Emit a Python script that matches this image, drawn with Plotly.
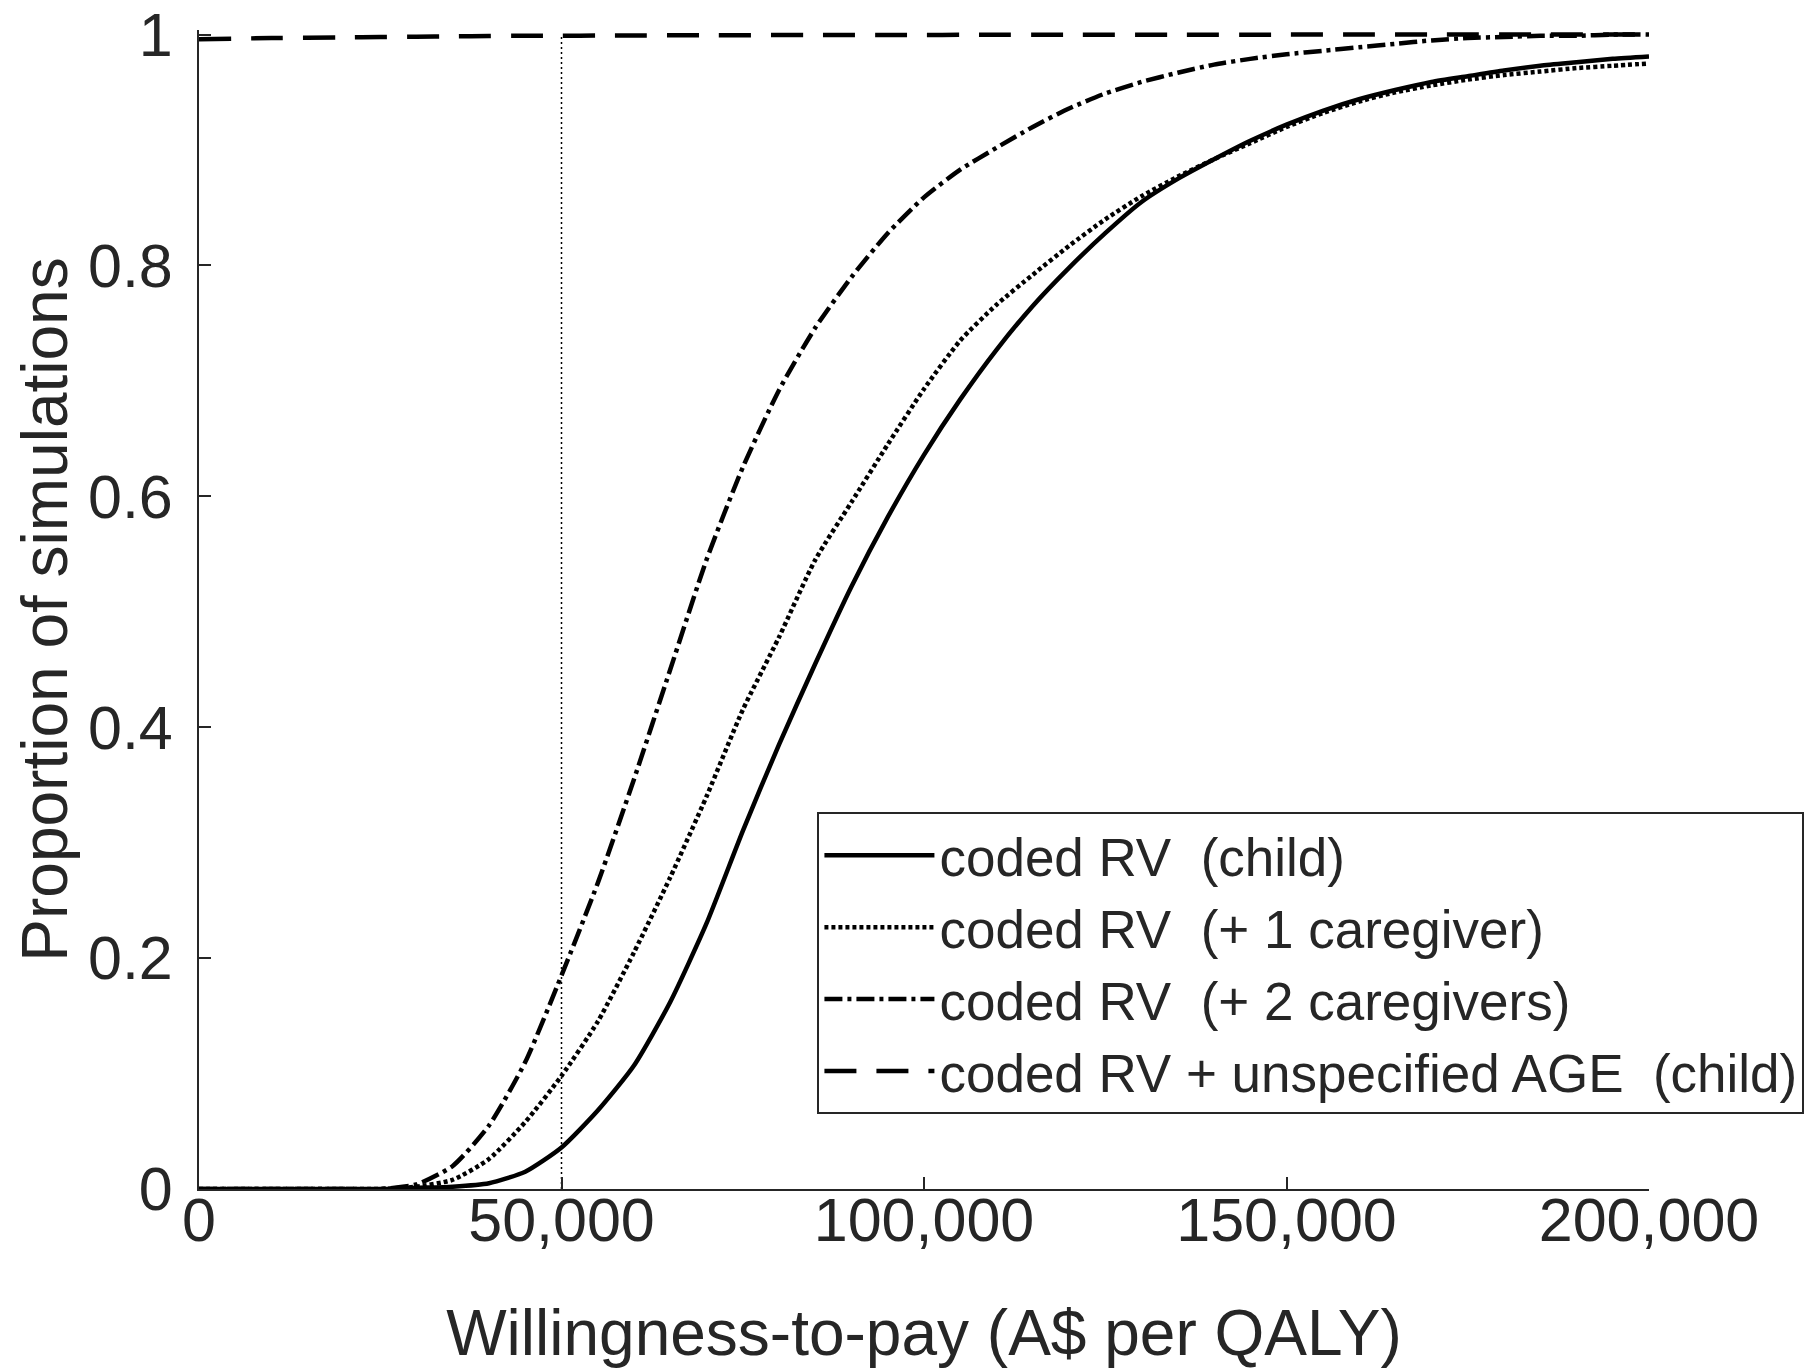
import plotly.graph_objects as go

# Willingness-to-pay grid (A$ per QALY)
wtp = [0, 10000, 20000, 25000, 30000, 35000, 40000, 45000, 50000, 55000, 60000,
       65000, 70000, 75000, 80000, 85000, 90000, 95000, 100000, 105000, 110000,
       115000, 120000, 125000, 130000, 135000, 140000, 145000, 150000, 155000,
       160000, 165000, 170000, 175000, 180000, 185000, 190000, 195000, 200000]

child = [0, 0, 0, 0, 0.001, 0.002, 0.005, 0.015, 0.036, 0.068, 0.107,
         0.162, 0.23, 0.31, 0.385, 0.455, 0.522, 0.582, 0.636, 0.684, 0.727,
         0.765, 0.798, 0.828, 0.855, 0.875, 0.892, 0.908, 0.922, 0.934,
         0.944, 0.952, 0.959, 0.964, 0.969, 0.973, 0.976, 0.979, 0.981]

one_caregiver = [0, 0, 0, 0, 0.002, 0.008, 0.026, 0.058, 0.098, 0.145, 0.205,
                 0.27, 0.34, 0.415, 0.478, 0.545, 0.595, 0.645, 0.693, 0.735, 0.766,
                 0.792, 0.817, 0.84, 0.86, 0.877, 0.892, 0.906, 0.92, 0.932,
                 0.942, 0.95, 0.956, 0.961, 0.965, 0.968, 0.971, 0.973, 0.975]

two_caregivers = [0, 0, 0, 0, 0.004, 0.02, 0.055, 0.11, 0.185, 0.265, 0.355,
                  0.45, 0.545, 0.625, 0.692, 0.746, 0.79, 0.828, 0.859, 0.883, 0.902,
                  0.92, 0.936, 0.949, 0.959, 0.967, 0.974, 0.979, 0.983, 0.986,
                  0.989, 0.992, 0.995, 0.997, 0.998, 0.999, 0.999, 1.0, 1.0]

age_child = [0.996, 0.997, 0.9975, 0.998, 0.9982, 0.9985, 0.9988, 0.999, 0.999, 0.9992, 0.9993,
             0.9994, 0.9995, 0.9995, 0.9996, 0.9996, 0.9997, 0.9997, 0.9997, 0.9998, 0.9998,
             0.9998, 0.9998, 0.9999, 0.9999, 0.9999, 0.9999, 0.9999, 1.0, 1.0,
             1.0, 1.0, 1.0, 1.0, 1.0, 1.0, 1.0, 1.0, 1.0]

threshold = 50000

names = ["coded RV  (child)", "coded RV  (+ 1 caregiver)",
         "coded RV  (+ 2 caregivers)", "coded RV + unspecified AGE  (child)"]

x_ticks = [0, 50000, 100000, 150000, 200000]
x_tick_labels = ["0", "50,000", "100,000", "150,000", "200,000"]
y_ticks = [0, 0.2, 0.4, 0.6, 0.8, 1]
y_tick_labels = ["0", "0.2", "0.4", "0.6", "0.8", "1"]

ink = "#000000"
axis_col = "#262626"
font_family = "Liberation Sans, Arial, sans-serif"

fig = go.Figure()

series = [child, one_caregiver, two_caregivers, age_child]
dashes = ["solid", "4px,3px", "18px,5px,4px,5px", "32px,20px"]
for name, ys, d in zip(names, series, dashes):
    fig.add_trace(go.Scatter(x=wtp, y=ys, name=name, mode="lines",
                             line=dict(color=ink, width=4.5, dash=d, shape="spline", smoothing=0.6)))

fig.add_trace(go.Scatter(x=[threshold, threshold], y=[0, 1], mode="lines",
                         line=dict(color=ink, width=1.5, dash="2px,3px"),
                         showlegend=False, hoverinfo="skip"))

fig.update_layout(
    width=1814, height=1369,
    margin=dict(l=199, r=165, t=30, b=180, autoexpand=False),
    paper_bgcolor="white", plot_bgcolor="white",
    font=dict(family=font_family, size=61, color=axis_col),
    showlegend=True,
    legend=dict(x=0.4265, y=0.325, xanchor="left", yanchor="top",
                bordercolor=axis_col, borderwidth=2, bgcolor="white",
                font=dict(size=53, color=axis_col), itemwidth=110,
                tracegroupgap=0),
)

fig.update_xaxes(range=[0, 200000], tickvals=x_ticks, ticktext=x_tick_labels,
                 showgrid=False, zeroline=False, showline=True, linecolor=axis_col,
                 linewidth=2, ticks="inside", ticklen=12, tickwidth=2, tickcolor=axis_col,
                 ticklabelstandoff=-23,
                 title=dict(text="Willingness-to-pay (A$ per QALY)", standoff=58,
                            font=dict(size=64)),
                 tickfont=dict(size=61))
fig.update_yaxes(range=[0, 1.004], tickvals=y_ticks, ticktext=y_tick_labels,
                 showgrid=False, zeroline=False, showline=True, linecolor=axis_col,
                 linewidth=2, ticks="inside", ticklen=12, tickwidth=2, tickcolor=axis_col,
                 ticklabelstandoff=12,
                 title=dict(text="Proportion of simulations", standoff=0,
                            font=dict(size=64)),
                 tickfont=dict(size=61))

fig.write_html("out.html")
